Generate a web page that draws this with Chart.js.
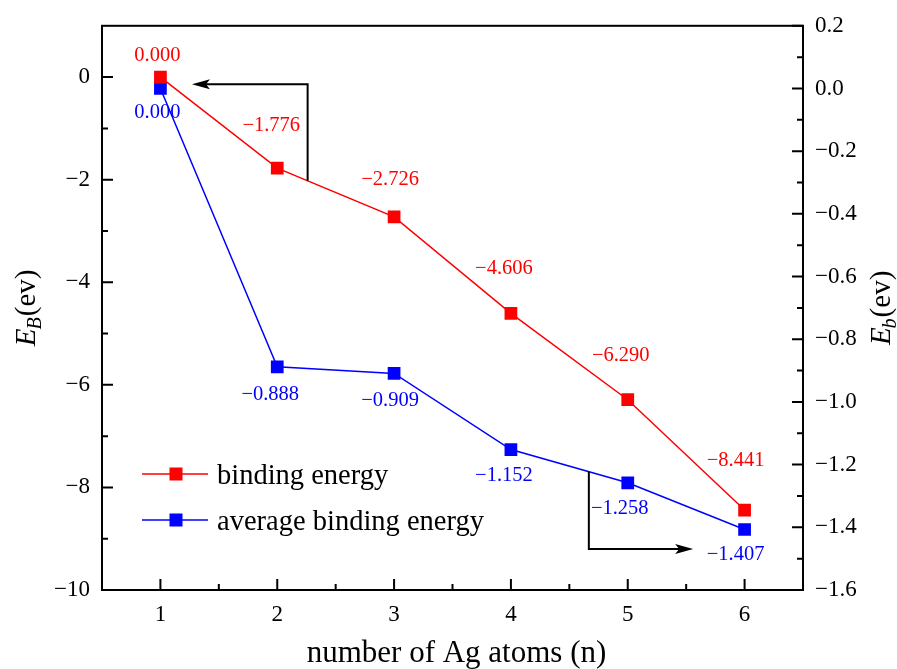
<!DOCTYPE html>
<html>
<head>
<meta charset="utf-8">
<script src="https://cdn.jsdelivr.net/npm/chart.js@4.4.1/dist/chart.umd.min.js"></script>
<style>
  html, body { margin: 0; padding: 0; background: #fff; }
  #wrap { width: 897px; height: 669px; }
</style>
</head>
<body>
<div id="wrap"><canvas id="energyChart" width="897" height="669"></canvas></div>
<script>
// Ag cluster size vs. energies
const atomCounts = [1, 2, 3, 4, 5, 6];
const bindingEnergy = [0.000, -1.776, -2.726, -4.606, -6.290, -8.441];      // E_B, left axis
const avgBindingEnergy = [0.000, -0.888, -0.909, -1.152, -1.258, -1.407];   // E_b, right axis

const xTicks = [1, 2, 3, 4, 5, 6];
const leftTicks = [-10, -8, -6, -4, -2, 0];
const rightTicks = [-1.6, -1.4, -1.2, -1.0, -0.8, -0.6, -0.4, -0.2, 0.0, 0.2];
const xMinor = [1.5, 2.5, 3.5, 4.5, 5.5];
const leftMinor = [-9, -7, -5, -3, -1];
const rightMinor = [-1.5, -1.3, -1.1, -0.9, -0.7, -0.5, -0.3, -0.1, 0.1];

// hand placed value labels (pixel offsets from each point)
const redLabelOffsets = [[-3, -21], [-6, -43], [-4, -37], [-7, -45], [-7, -44], [-9, -49]];
const blueLabelOffsets = [[-3, 24], [-7, 28], [-4, 27], [-7, 26], [-8, 26], [-9, 25]];

const SERIF = '"Liberation Serif", "Times New Roman", serif';
const RED = '#ff0000';
const BLUE = '#0000ff';

const minus = s => s.replace('-', '\u2212');

function toXY(ys) {
  return atomCounts.map((x, i) => ({ x: x, y: ys[i] }));
}

// inward ticks, frame, value labels, arrows, legend, axis titles
const decorPlugin = {
  id: 'decor',
  afterDatasetsDraw(chart) {
    const ctx = chart.ctx;
    const a = chart.chartArea;
    const sx = chart.scales.x, sl = chart.scales.yL, sr = chart.scales.yR;
    ctx.save();

    // frame
    ctx.strokeStyle = '#000';
    ctx.lineWidth = 2;
    ctx.strokeRect(a.left, a.top, a.right - a.left, a.bottom - a.top);

    // ticks pointing into the plot
    ctx.lineWidth = 2;
    ctx.beginPath();
    xTicks.forEach(v => { const p = sx.getPixelForValue(v); ctx.moveTo(p, a.bottom); ctx.lineTo(p, a.bottom - 11); });
    xMinor.forEach(v => { const p = sx.getPixelForValue(v); ctx.moveTo(p, a.bottom); ctx.lineTo(p, a.bottom - 6); });
    leftTicks.forEach(v => { const p = sl.getPixelForValue(v); ctx.moveTo(a.left, p); ctx.lineTo(a.left + 11, p); });
    leftMinor.forEach(v => { const p = sl.getPixelForValue(v); ctx.moveTo(a.left, p); ctx.lineTo(a.left + 6, p); });
    rightTicks.forEach(v => { const p = sr.getPixelForValue(v); ctx.moveTo(a.right, p); ctx.lineTo(a.right - 11, p); });
    rightMinor.forEach(v => { const p = sr.getPixelForValue(v); ctx.moveTo(a.right, p); ctx.lineTo(a.right - 6, p); });
    ctx.stroke();

    // value labels
    ctx.font = '20.5px ' + SERIF;
    ctx.textAlign = 'center';
    ctx.textBaseline = 'middle';
    chart.getDatasetMeta(0).data.forEach((pt, i) => {
      ctx.fillStyle = RED;
      ctx.fillText(minus(bindingEnergy[i].toFixed(3)), pt.x + redLabelOffsets[i][0], pt.y + redLabelOffsets[i][1]);
    });
    chart.getDatasetMeta(1).data.forEach((pt, i) => {
      ctx.fillStyle = BLUE;
      ctx.fillText(minus(avgBindingEnergy[i].toFixed(3)), pt.x + blueLabelOffsets[i][0], pt.y + blueLabelOffsets[i][1]);
    });

    // arrows telling which axis each curve belongs to
    function arrow(yScale, xv, yFrom, yTo, xTip) {
      const x0 = sx.getPixelForValue(xv);
      const y0 = yScale.getPixelForValue(yFrom);
      const y1 = yScale.getPixelForValue(yTo);
      const xt = sx.getPixelForValue(xTip);
      const dir = xt < x0 ? 1 : -1;
      ctx.strokeStyle = '#000';
      ctx.lineWidth = 2;
      ctx.beginPath();
      ctx.moveTo(x0, y0);
      ctx.lineTo(x0, y1);
      ctx.lineTo(xt + dir * 10, y1);
      ctx.stroke();
      ctx.fillStyle = '#000';
      ctx.beginPath();
      ctx.moveTo(xt, y1);
      ctx.lineTo(xt + dir * 18, y1 - 5);
      ctx.lineTo(xt + dir * 14, y1);
      ctx.lineTo(xt + dir * 18, y1 + 5);
      ctx.closePath();
      ctx.fill();
    }
    arrow(sl, 2.26, -2.02, -0.14, 1.27);
    arrow(sr, 4.667, -1.223, -1.469, 5.56);

    // legend
    ctx.font = '28.5px ' + SERIF;
    ctx.textAlign = 'left';
    ctx.textBaseline = 'alphabetic';
    chart.data.datasets.forEach((ds, i) => {
      const y = 474 + i * 46;
      ctx.strokeStyle = ds.borderColor;
      ctx.lineWidth = 1.5;
      ctx.beginPath();
      ctx.moveTo(142, y);
      ctx.lineTo(208, y);
      ctx.stroke();
      ctx.fillStyle = ds.backgroundColor;
      ctx.fillRect(176 - 6.5, y - 6.5, 13, 13);
      ctx.fillStyle = '#000';
      ctx.fillText(ds.label, 217, y + 9.5);
    });

    // axis titles
    ctx.fillStyle = '#000';
    ctx.textAlign = 'center';
    ctx.font = '31px ' + SERIF;
    ctx.fillText('number of Ag atoms (n)', (a.left + a.right) / 2 + 4, 662);

    function vTitle(cx, baseX, sub) {
      const big = 'italic 29px ' + SERIF;
      const small = 'italic 20px ' + SERIF;
      const reg = '29px ' + SERIF;
      ctx.font = big; const wE = ctx.measureText('E').width;
      ctx.font = small; const wS = ctx.measureText(sub).width;
      ctx.font = reg; const wP = ctx.measureText('(ev)').width;
      const total = wE + wS + wP;
      ctx.save();
      ctx.translate(baseX, cx);
      ctx.rotate(-Math.PI / 2);
      ctx.textAlign = 'left';
      let x = -total / 2;
      ctx.font = big; ctx.fillText('E', x, 0); x += wE - 1;
      ctx.font = small; ctx.fillText(sub, x, 6); x += wS + 1;
      ctx.font = reg; ctx.fillText('(ev)', x, 0);
      ctx.restore();
    }
    const midY = (a.top + a.bottom) / 2;
    vTitle(midY, 35, 'B');
    vTitle(midY, 890, 'b');

    ctx.restore();
  }
};

new Chart(document.getElementById('energyChart'), {
  type: 'line',
  data: {
    datasets: [
      {
        label: 'binding energy',
        data: toXY(bindingEnergy),
        yAxisID: 'yL',
        borderColor: RED,
        backgroundColor: RED,
        borderWidth: 1.5,
        pointStyle: 'rect',
        pointRadius: 9,
        pointBorderWidth: 0,
        tension: 0
      },
      {
        label: 'average binding energy',
        data: toXY(avgBindingEnergy),
        yAxisID: 'yR',
        borderColor: BLUE,
        backgroundColor: BLUE,
        borderWidth: 1.5,
        pointStyle: 'rect',
        pointRadius: 9,
        pointBorderWidth: 0,
        tension: 0
      }
    ]
  },
  options: {
    responsive: false,
    animation: false,
    events: [],
    layout: { padding: { top: 25, left: 0, right: 0, bottom: 0 } },
    plugins: {
      legend: { display: false },
      tooltip: { enabled: false }
    },
    scales: {
      x: {
        type: 'linear',
        min: 0.5,
        max: 6.5,
        afterBuildTicks: s => { s.ticks = xTicks.map(v => ({ value: v })); },
        afterFit: s => { s.height = 79; },
        grid: { display: false, drawTicks: false },
        border: { display: false },
        ticks: { color: '#000', padding: 11, font: { family: SERIF, size: 23 } }
      },
      yL: {
        type: 'linear',
        position: 'left',
        min: -10,
        max: 1,
        afterBuildTicks: s => { s.ticks = leftTicks.map(v => ({ value: v })); },
        afterFit: s => { s.width = 102; },
        grid: { display: false, drawTicks: false },
        border: { display: false },
        ticks: {
          color: '#000', padding: 12, font: { family: SERIF, size: 23 },
          callback: v => minus(String(v))
        }
      },
      yR: {
        type: 'linear',
        position: 'right',
        min: -1.6,
        max: 0.2,
        afterBuildTicks: s => { s.ticks = rightTicks.map(v => ({ value: v })); },
        afterFit: s => { s.width = 94; },
        grid: { display: false, drawTicks: false },
        border: { display: false },
        ticks: {
          color: '#000', padding: 12, font: { family: SERIF, size: 23 },
          callback: v => minus(v.toFixed(1))
        }
      }
    }
  },
  plugins: [decorPlugin]
});
</script>
</body>
</html>
